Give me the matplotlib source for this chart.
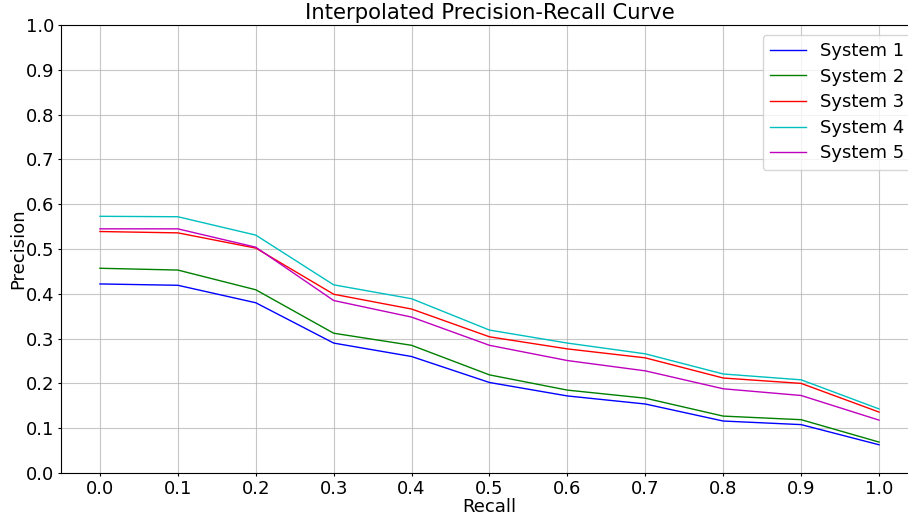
import matplotlib
matplotlib.use("Agg")
import matplotlib.pyplot as plt

recall = [0.0, 0.1, 0.2, 0.3, 0.4, 0.5, 0.6, 0.7, 0.8, 0.9, 1.0]

system1 = [0.422, 0.419, 0.380, 0.290, 0.260, 0.202, 0.172, 0.154, 0.116, 0.108, 0.063]
system2 = [0.457, 0.453, 0.409, 0.312, 0.285, 0.219, 0.185, 0.167, 0.127, 0.119, 0.069]
system3 = [0.539, 0.536, 0.502, 0.399, 0.366, 0.304, 0.277, 0.257, 0.212, 0.200, 0.136]
system4 = [0.573, 0.572, 0.531, 0.420, 0.389, 0.319, 0.290, 0.266, 0.221, 0.208, 0.143]
system5 = [0.545, 0.545, 0.504, 0.385, 0.348, 0.285, 0.251, 0.228, 0.188, 0.173, 0.118]

series = [
    ("System 1", system1, "b"),
    ("System 2", system2, "g"),
    ("System 3", system3, "r"),
    ("System 4", system4, "c"),
    ("System 5", system5, "m"),
]

plt.rcParams["font.size"] = 13

fig = plt.figure(figsize=(9.08, 5.17), dpi=100)
ax = fig.add_axes([61 / 908, 44 / 517, 857 / 908, 448 / 517])

for name, vals, color in series:
    ax.plot(recall, vals, color=color, linewidth=1, label=name)

ax.set_xticks(recall)
ax.set_yticks([i / 10 for i in range(11)])
ax.set_ylim(0, 1.0)
ax.tick_params(length=2, pad=3)
ax.grid(True, color="#b0b0b0", alpha=0.7)
ax.set_xlabel("Recall", labelpad=0)
ax.set_ylabel("Precision", labelpad=-1)
ax.set_title("Interpolated Precision-Recall Curve", fontsize=15.2, pad=4)
ax.legend(loc="upper right", bbox_to_anchor=(1.0035, 0.998), labelspacing=0.42)

fig.savefig("out.png", dpi=100)
